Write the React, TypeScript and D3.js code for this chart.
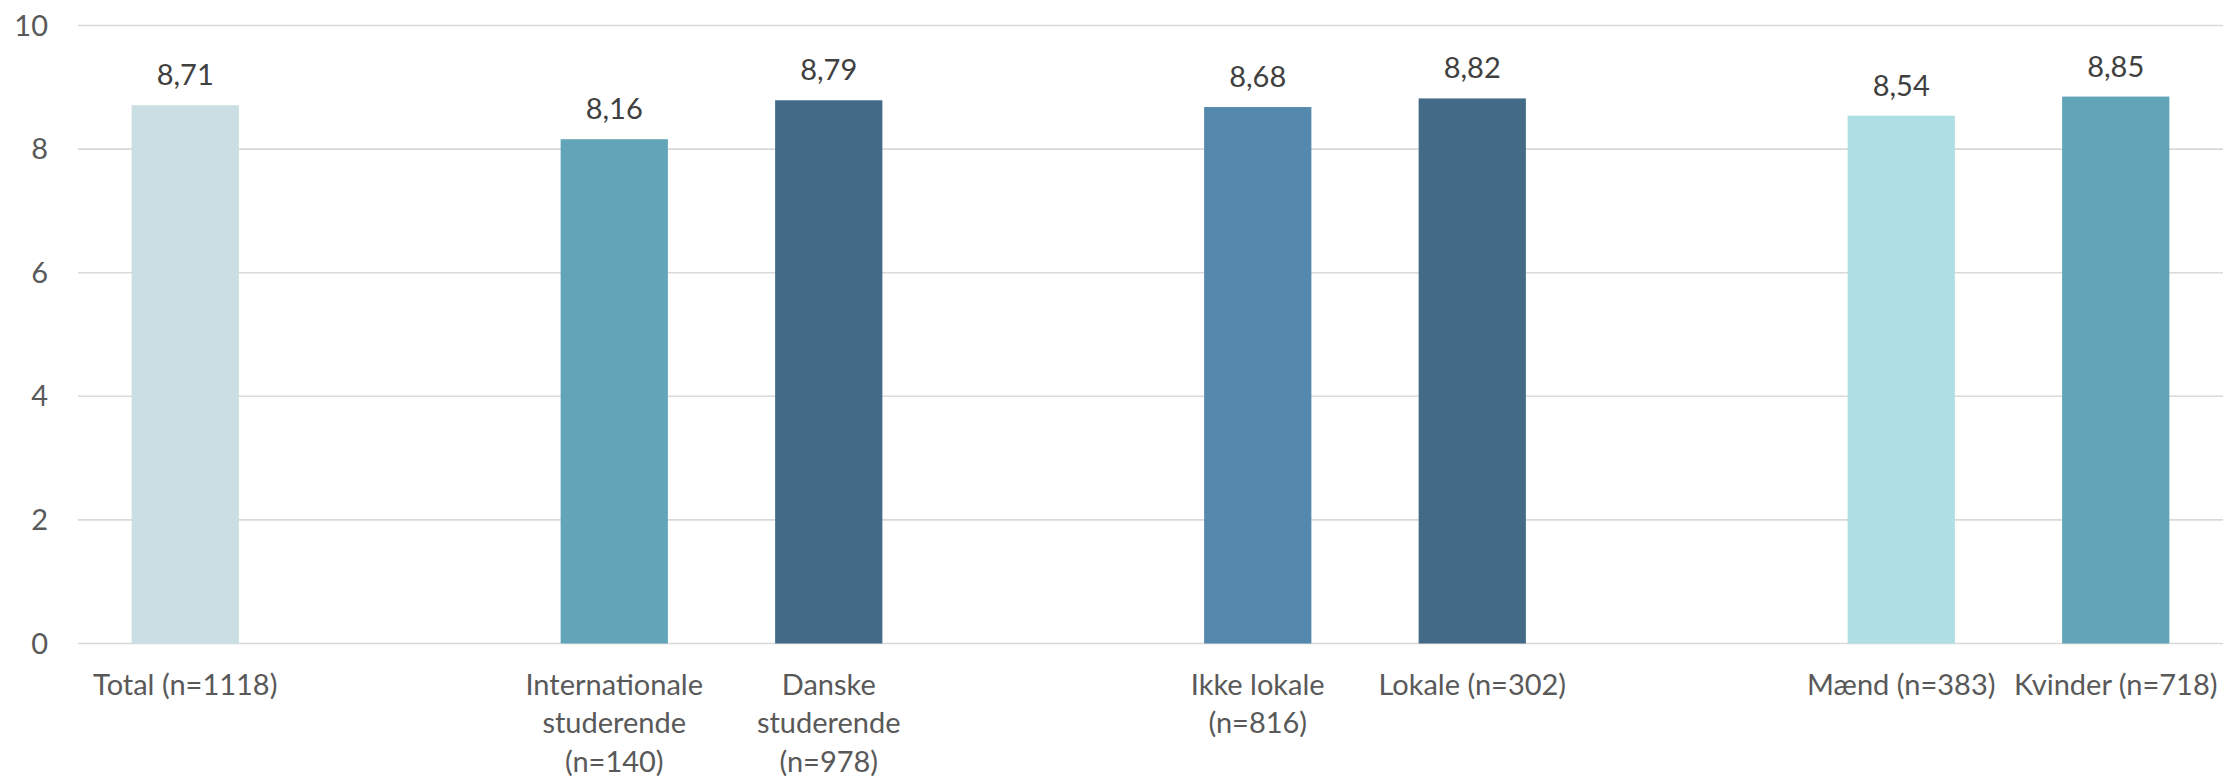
import React from "react";
import * as d3 from "d3";

const categories = [
  "Total (n=1118)",
  "",
  "Internationale studerende (n=140)",
  "Danske studerende (n=978)",
  "",
  "Ikke lokale (n=816)",
  "Lokale (n=302)",
  "",
  "Mænd (n=383)",
  "Kvinder (n=718)",
];
const labelLines: string[][] = [
  ["Total (n=1118)"],
  [],
  ["Internationale", "studerende", "(n=140)"],
  ["Danske", "studerende", "(n=978)"],
  [],
  ["Ikke lokale", "(n=816)"],
  ["Lokale (n=302)"],
  [],
  ["Mænd (n=383)"],
  ["Kvinder (n=718)"],
];
const values: (number | null)[] = [8.71, null, 8.16, 8.79, null, 8.68, 8.82, null, 8.54, 8.85];
const barColors = [
  "#C9DFE3",
  "none",
  "#62A5B8",
  "#436B87",
  "none",
  "#5488AC",
  "#436B87",
  "none",
  "#B0DFE3",
  "#62A5B8",
];
const yTicks = [0, 2, 4, 6, 8, 10];

const W = 2224;
const H = 779;
const FONT = "Lato, 'Open Sans', sans-serif";

const locale = d3.formatLocale({ decimal: ",", thousands: ".", grouping: [3], currency: ["", " kr."] });
const fmt = locale.format(".2f");

export default function App() {
  const x = d3
    .scaleBand<string>()
    .domain(categories.map((_, i) => String(i)))
    .range([78, 2223])
    .paddingInner(0.5)
    .paddingOuter(0.25);
  const y = d3.scaleLinear().domain([0, 10]).range([643.5, 25.5]);
  const bw = x.bandwidth();

  return (
    <svg
      width={W}
      height={H}
      viewBox={`0 0 ${W} ${H}`}
      style={{ position: "absolute", left: 0, top: 0, background: "#fff" }}
    >
      <rect width={W} height={H} fill="#fff" />
      {yTicks.map((t) => (
        <g key={t}>
          <line x1={78} x2={2223} y1={y(t)} y2={y(t)} stroke="#D9D9D9" strokeWidth={1.6} />
          <text
            x={48}
            y={y(t)}
            dy="0.35em"
            textAnchor="end"
            fontFamily={FONT}
            fontSize={29}
            fill="#595959"
          >
            {t}
          </text>
        </g>
      ))}
      {values.map((v, i) =>
        v == null ? null : (
          <g key={i}>
            <rect
              x={x(String(i))}
              y={y(v)}
              width={bw}
              height={y(0) - y(v)}
              fill={barColors[i]}
            />
            <text
              x={(x(String(i)) as number) + bw / 2}
              y={y(v) - 20}
              textAnchor="middle"
              fontFamily={FONT}
              fontSize={29}
              fill="#404040"
            >
              {fmt(v)}
            </text>
          </g>
        )
      )}
      {labelLines.map((lines, i) =>
        lines.length === 0 ? null : (
          <text
            key={i}
            x={(x(String(i)) as number) + bw / 2}
            y={695}
            textAnchor="middle"
            fontFamily={FONT}
            fontSize={29}
            fill="#595959"
          >
            {lines.map((ln, j) => (
              <tspan key={j} x={(x(String(i)) as number) + bw / 2} y={695 + j * 38.4}>
                {ln}
              </tspan>
            ))}
          </text>
        )
      )}
    </svg>
  );
}
